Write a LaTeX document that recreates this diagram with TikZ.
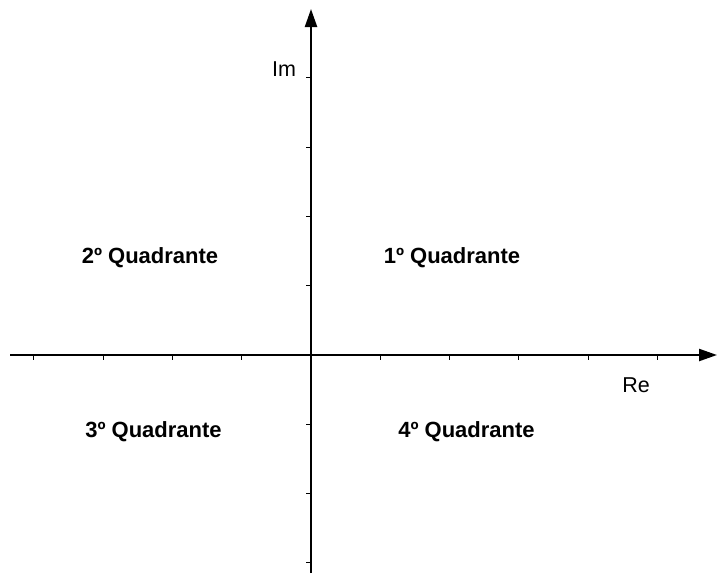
\documentclass[tikz,border=0pt]{standalone}
\usepackage{fontspec}
\setmainfont{Liberation Sans}
\usetikzlibrary{arrows.meta, positioning, calc}

\begin{document}
\begin{tikzpicture}[
    x=1pt, y=-1pt,
    axis/.style={-{Triangle[length=18pt, width=12pt]}, line width=2.3pt},
    tickmark/.style={line width=1pt},
    quad/.style={anchor=base, font=\fontsize{22}{26}\selectfont\bfseries},
    axlabel/.style={font=\fontsize{21.5}{25}\selectfont}
]
\useasboundingbox (0,0) rectangle (717,573);
\coordinate (o) at (311,355);
\coordinate (west) at (10,355);
\coordinate (east) at (717,355);
\coordinate (south) at (311,573);
\coordinate (north) at (311,9);

\draw[axis] (west) -- (east);
\draw[axis] (south) -- (north);

% ticks
\foreach \i in {-4,-3,-2,-1,1,2,3,4,5}
    \draw[tickmark] ($(o)+(69.3*\i,0)$) -- ++(0,5);
\foreach \k in {-3,-2,-1,1,2,3,4}
    \draw[tickmark] ($(o)+(0,-69.3*\k)$) -- ++(-5,0);

\node[axlabel] (im) at (284,69) {Im};
\node[axlabel] (re) at (636,385) {Re};

\node[quad] (q1) at (452,263) {1º Quadrante};
\node[quad] (q2) at (150,263) {2º Quadrante};
\node[quad] (q3) at (153.5,437) {3º Quadrante};
\node[quad] (q4) at (466.5,437) {4º Quadrante};
\end{tikzpicture}
\end{document}
